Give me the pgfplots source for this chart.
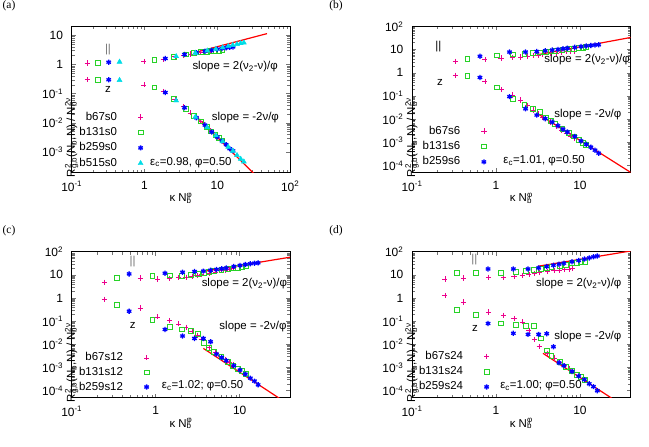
\documentclass[border=0pt]{standalone}
\usepackage{fontspec}
\setmainfont{Liberation Sans}
\newfontfamily\seriffont{Liberation Serif}
\usepackage{pgfplots}
\pgfplotsset{compat=1.18}

\definecolor{gpgreen}{RGB}{40,210,40}
\definecolor{gpcyan}{RGB}{0,220,230}
\newcommand\gpfont{\fontsize{11.5}{13}\selectfont}
\newcommand\tkfont{\fontsize{12}{14}\selectfont}
\newcommand\supsub[2]{\rlap{\textsuperscript{#1}}\textsubscript{#2}}
\newcommand\subsup[2]{\rlap{\textsubscript{#1}}\textsuperscript{#2}}
\newcommand\xlab{κ N\subsup{b}{φ}}
\newcommand\ylab{R\supsub{2}{g,b}(N\textsubscript{b},N) / N\subsup{b}{2ν}}

\pgfplotsset{
  pplus/.style={only marks, mark=+, mark size=2.6bp, color=magenta, line width=0.6bp},
  psq/.style={only marks, mark=square, mark size=2.4bp, color=gpgreen, line width=0.8bp},
  pstar/.style={only marks, mark=asterisk, mark size=2.6bp, color=blue, line width=1.3bp},
  ptri/.style={only marks, mark=triangle*, mark size=2.9bp, color=gpcyan},
  fitline/.style={red, line width=1.2bp, no marks, forget plot},
}

\begin{document}
\begin{tikzpicture}[font=\gpfont, every node/.append style={inner sep=0pt}]
\useasboundingbox (0,0) rectangle (649bp,447bp);

% ---------------- (a)
\begin{axis}[at={(71.7bp,274.5bp)}, anchor=south west,
  scale only axis, width=218.5bp, height=146bp,
  xmode=log, ymode=log,
  xmin=0.1, xmax=100, ymin=2e-4, ymax=20,
  xtick={0.1,1,10,100}, xticklabels={10\textsuperscript{-1},1,10,10\textsuperscript{2}},
  ytick={1e-3,1e-2,0.1,1,10}, yticklabels={10\textsuperscript{-3},10\textsuperscript{-2},10\textsuperscript{-1},1,10},
  minor tick num=0,
  tick align=inside, major tick length=4bp,
  tick style={black!55, line width=0.5bp},
  tick label style={font=\tkfont, inner sep=8.5bp},
  axis line style={line width=0.7bp},
  xlabel={\xlab}, ylabel={\ylab}, label style={font=\gpfont},
  xlabel style={at={(rel axis cs:0.5,0)}, anchor=center, yshift=-26bp},
  ylabel style={at={(rel axis cs:0,0.5)}, anchor=center, xshift=-38bp},
  legend cell align=right, legend plot pos=right,
  legend style={draw=none, fill=none, inner sep=0pt, outer sep=0pt, font=\gpfont,
    nodes={inner sep=0pt, text height=8.5bp, text depth=2.5bp},
    row sep=4.4bp, column sep=21bp, anchor=north east,
    at={(rel axis cs:0,1)}, xshift=71.5bp, yshift=-85.1bp}]
\addplot[pplus] coordinates {(0.164,1.13) (0.98,1.26) (1.80,1.52) (2.62,1.85) (3.44,2.1) (4.26,2.3) (5.08,2.45) (5.90,2.55) (6.72,2.62) (7.53,2.68) (8.35,2.72)};
\addlegendentry{b67s0}
\addplot[pplus, forget plot] coordinates {(0.164,0.30) (0.98,0.20) (1.80,0.12) (2.62,0.063) (3.44,0.036) (4.26,0.022) (5.08,0.0155) (5.90,0.0115) (6.72,0.0087) (7.53,0.0066) (8.35,0.0052)};
\addplot[psq] coordinates {(0.229,1.13) (1.37,1.40) (2.52,1.83) (3.66,2.2) (4.81,2.45) (5.95,2.65) (7.10,2.78) (8.24,2.88) (9.39,2.95) (10.5,3.0) (11.7,3.02)};
\addlegendentry{b131s0}
\addplot[psq, forget plot] coordinates {(0.229,0.30) (1.37,0.163) (2.52,0.068) (3.66,0.031) (4.81,0.017) (5.95,0.0113) (7.10,0.0074) (8.24,0.0051) (9.39,0.0038) (10.5,0.0030) (11.7,0.0025)};
\addplot[pstar] coordinates {(0.322,1.2) (1.93,1.6) (3.54,2.2) (5.15,2.55) (6.76,2.85) (8.37,3.1) (9.98,3.35) (11.6,3.55) (13.2,3.72) (14.8,3.88) (16.4,4.0)};
\addlegendentry{b259s0}
\addplot[pstar, forget plot] coordinates {(0.322,0.30) (1.93,0.11) (3.54,0.033) (5.15,0.015) (6.76,0.0084) (8.37,0.0049) (9.98,0.0033) (11.6,0.0024) (13.2,0.0018) (14.8,0.0013) (16.4,0.0011)};
\addplot[ptri] coordinates {(0.454,1.23) (2.72,1.9) (4.99,2.5) (7.26,2.95) (9.53,3.4) (11.8,3.8) (14.1,4.2) (16.3,4.6) (18.6,4.95) (20.9,5.3) (23.1,5.6)};
\addlegendentry{b515s0}
\addplot[ptri, forget plot] coordinates {(0.454,0.29) (2.72,0.058) (4.99,0.016) (7.26,0.0070) (9.53,0.0037) (11.8,0.0023) (14.1,0.0015) (16.3,0.0011) (18.6,0.00078) (20.9,0.00058) (23.1,0.00047)};
\addplot[fitline] coordinates {(5.2,2.66) (48,11.4)};
\addplot[fitline] coordinates {(5.5,0.014) (35,1.43e-4)};
\node[anchor=west] at (axis cs:1.19,4.47e-4) {ε\textsubscript{c}=0.98, φ=0.50};
\node[anchor=east] at (axis cs:68,0.84) {slope = 2(ν\textsubscript{2}-ν)/φ};
\node[anchor=east] at (axis cs:70.5,0.0155) {slope = -2ν/φ};
\node[text=black!55] at (axis cs:0.315,3.13) {\textbar\textbar};
\node at (axis cs:0.315,0.145) {z};
\end{axis}

% ---------------- (b)
\begin{axis}[at={(412bp,274.5bp)}, anchor=south west,
  scale only axis, width=218.5bp, height=146bp,
  xmode=log, ymode=log,
  xmin=0.1, xmax=40, ymin=5e-5, ymax=100,
  xtick={0.1,1,10}, xticklabels={10\textsuperscript{-1},1,10},
  ytick={1e-4,1e-3,1e-2,0.1,1,10,100},
  yticklabels={10\textsuperscript{-4},10\textsuperscript{-3},10\textsuperscript{-2},10\textsuperscript{-1},1,10,10\textsuperscript{2}},
  minor tick num=0,
  tick align=inside, major tick length=4bp,
  tick style={black!55, line width=0.5bp},
  tick label style={font=\tkfont, inner sep=8.5bp},
  axis line style={line width=0.7bp},
  xlabel={\xlab}, ylabel={\ylab}, label style={font=\gpfont},
  xlabel style={at={(rel axis cs:0.5,0)}, anchor=center, yshift=-26bp},
  ylabel style={at={(rel axis cs:0,0.5)}, anchor=center, xshift=-38bp},
  legend cell align=right, legend plot pos=right,
  legend style={draw=none, fill=none, inner sep=0pt, outer sep=0pt, font=\gpfont,
    nodes={inner sep=0pt, text height=8.5bp, text depth=2.5bp},
    row sep=4.4bp, column sep=21bp, anchor=north east,
    at={(rel axis cs:0,1)}, xshift=74.5bp, yshift=-99.1bp}]
\addplot[pplus] coordinates {(0.328,3.16) (0.737,3.7) (1.15,4.4) (1.56,4.6) (1.97,4.85) (2.38,5.2) (2.78,5.5) (3.19,5.8) (3.60,6.1) (4.42,6.7) (5.24,7.2) (6.06,7.7) (6.88,8.1) (7.70,8.5) (8.52,8.8)};
\addlegendentry{b67s6}
\addplot[pplus, forget plot] coordinates {(0.328,0.79) (0.737,0.44) (1.15,0.19) (1.56,0.11) (1.97,0.067) (2.38,0.04) (2.78,0.025) (3.19,0.017) (3.60,0.0125) (4.42,0.0075) (5.24,0.0048) (6.06,0.0034) (6.88,0.0025) (7.70,0.0019) (8.52,0.0015)};
\addplot[psq] coordinates {(0.458,4.1) (1.03,5.7) (1.60,6.3) (2.18,6.6) (2.75,7.2) (3.32,7.6) (3.89,8.0) (4.47,8.5) (5.04,8.9) (6.18,9.7) (7.33,10.4) (8.47,11.1) (9.62,11.8) (10.8,12.4) (11.9,13.0)};
\addlegendentry{b131s6}
\addplot[psq, forget plot] coordinates {(0.458,0.72) (1.03,0.235) (1.60,0.074) (2.18,0.04) (2.75,0.028) (3.32,0.02) (3.89,0.012) (4.47,0.0085) (5.04,0.0062) (6.18,0.0038) (7.33,0.0026) (8.47,0.0018) (9.62,0.0013) (10.8,0.00098) (11.9,0.00078)};
\addplot[pstar] coordinates {(0.644,5.2) (1.45,7.9) (2.25,7.9) (3.06,8.3) (3.86,8.9) (4.67,9.6) (5.47,10.3) (6.28,10.9) (7.08,11.5) (8.69,12.6) (10.3,13.6) (11.9,14.5) (13.5,15.2) (15.1,15.9) (16.7,16.4)};
\addlegendentry{b259s6}
\addplot[pstar, forget plot] coordinates {(0.644,0.63) (1.45,0.094) (2.25,0.028) (3.06,0.015) (3.86,0.0105) (4.67,0.0075) (5.47,0.0052) (6.28,0.0037) (7.08,0.0028) (8.69,0.0018) (10.3,0.00115) (11.9,0.00082) (13.5,0.00062) (15.1,0.00046) (16.7,0.00034)};
\addplot[fitline] coordinates {(3.16,6.1) (40,33.5)};
\addplot[fitline] coordinates {(3.16,0.017) (40,5.1e-5)};
\node[anchor=west] at (axis cs:1.22,1.61e-4) {ε\textsubscript{c}=1.01, φ=0.50};
\node[anchor=east] at (axis cs:39.4,3.58) {slope = 2(ν\textsubscript{2}-ν)/φ};
\node[anchor=east] at (axis cs:31.3,0.0151) {slope = -2ν/φ};
\node at (axis cs:0.206,13.4) {\textbar\textbar};
\node at (axis cs:0.215,0.375) {z};
\end{axis}

% ---------------- (c)
\begin{axis}[at={(71.7bp,49.3bp)}, anchor=south west,
  scale only axis, width=218.5bp, height=146bp,
  xmode=log, ymode=log,
  xmin=0.1, xmax=40, ymin=5e-5, ymax=100,
  xtick={0.1,1,10}, xticklabels={10\textsuperscript{-1},1,10},
  ytick={1e-4,1e-3,1e-2,0.1,1,10,100},
  yticklabels={10\textsuperscript{-4},10\textsuperscript{-3},10\textsuperscript{-2},10\textsuperscript{-1},1,10,10\textsuperscript{2}},
  minor tick num=0,
  tick align=inside, major tick length=4bp,
  tick style={black!55, line width=0.5bp},
  tick label style={font=\tkfont, inner sep=8.5bp},
  axis line style={line width=0.7bp},
  xlabel={\xlab}, ylabel={\ylab}, label style={font=\gpfont},
  xlabel style={at={(rel axis cs:0.5,0)}, anchor=center, yshift=-26bp},
  ylabel style={at={(rel axis cs:0,0.5)}, anchor=center, xshift=-38bp},
  legend cell align=right, legend plot pos=right,
  legend style={draw=none, fill=none, inner sep=0pt, outer sep=0pt, font=\gpfont,
    nodes={inner sep=0pt, text height=8.5bp, text depth=2.5bp},
    row sep=3.6bp, column sep=21bp, anchor=north east,
    at={(rel axis cs:0,1)}, xshift=77.5bp, yshift=-100.6bp}]
\addplot[pplus] coordinates {(0.246,4.85) (0.655,7.4) (1.06,6.7) (1.47,7.0) (1.88,7.5) (2.29,7.9) (2.70,8.6) (3.11,9.5) (3.52,10.5) (4.34,12.0) (5.16,13.5) (5.98,15) (6.80,16.3) (7.62,17.5) (8.44,18.5)};
\addlegendentry{b67s12}
\addplot[pplus, forget plot] coordinates {(0.246,0.88) (0.655,0.37) (1.06,0.154) (1.47,0.107) (1.88,0.077) (2.29,0.055) (2.70,0.035) (3.11,0.025) (3.52,0.016) (4.34,0.0075) (5.16,0.0045) (5.98,0.003) (6.80,0.0022) (7.62,0.0017) (8.44,0.0013)};
\addplot[psq] coordinates {(0.344,7.4) (0.916,8.8) (1.49,9.4) (2.06,9.0) (2.63,10.3) (3.21,11.2) (3.78,12.3) (4.35,13.3) (4.92,14.3) (6.07,16) (7.21,17.6) (8.36,19.2) (9.50,20.5) (10.6,21.8) (11.8,23)};
\addlegendentry{b131s12}
\addplot[psq, forget plot] coordinates {(0.344,0.52) (0.916,0.118) (1.49,0.057) (2.06,0.044) (2.63,0.037) (3.21,0.028) (3.78,0.012) (4.35,0.0072) (4.92,0.0048) (6.07,0.0029) (7.21,0.0018) (8.36,0.0012) (9.50,0.0009) (10.6,0.0007) (11.8,0.00052)};
\addplot[pstar] coordinates {(0.483,11) (1.29,11.8) (2.09,13) (2.90,13.9) (3.70,14.5) (4.51,15.8) (5.31,17.2) (6.11,18.5) (6.92,19.7) (8.53,23) (10.1,25.5) (11.7,28) (13.4,30) (15.0,32) (16.6,33)};
\addlegendentry{b259s12}
\addplot[pstar, forget plot] coordinates {(0.483,0.27) (1.29,0.044) (2.09,0.023) (2.90,0.018) (3.70,0.018) (4.51,0.013) (5.31,0.0038) (6.11,0.0027) (6.92,0.002) (8.53,0.0012) (10.1,0.00078) (11.7,0.00052) (13.4,0.00035) (15.0,0.00026) (16.6,0.00018)};
\addplot[fitline] coordinates {(3.63,13.9) (40,58)};
\addplot[fitline] coordinates {(3.7,6.7e-3) (30,4.6e-5)};
\node[anchor=west] at (axis cs:1.18,1.65e-4) {ε\textsubscript{c}=1.02; φ=0.50};
\node[anchor=east] at (axis cs:36.9,4.33) {slope = 2(ν\textsubscript{2}-ν)/φ};
\node[anchor=east] at (axis cs:36.3,0.058) {slope = -2ν/φ};
\node[text=black!55] at (axis cs:0.532,37) {\textbar\textbar};
\node at (axis cs:0.532,0.0686) {z};
\end{axis}

% ---------------- (d)
\begin{axis}[at={(412bp,49.3bp)}, anchor=south west,
  scale only axis, width=218.5bp, height=146bp,
  xmode=log, ymode=log,
  xmin=0.1, xmax=40, ymin=5e-5, ymax=100,
  xtick={0.1,1,10}, xticklabels={10\textsuperscript{-1},1,10},
  ytick={1e-4,1e-3,1e-2,0.1,1,10,100},
  yticklabels={10\textsuperscript{-4},10\textsuperscript{-3},10\textsuperscript{-2},10\textsuperscript{-1},1,10,10\textsuperscript{2}},
  minor tick num=0,
  tick align=inside, major tick length=4bp,
  tick style={black!55, line width=0.5bp},
  tick label style={font=\tkfont, inner sep=8.5bp},
  axis line style={line width=0.7bp},
  xlabel={\xlab}, ylabel={\ylab}, label style={font=\gpfont},
  xlabel style={at={(rel axis cs:0.5,0)}, anchor=center, yshift=-26bp},
  ylabel style={at={(rel axis cs:0,0.5)}, anchor=center, xshift=-38bp},
  legend cell align=right, legend plot pos=right,
  legend style={draw=none, fill=none, inner sep=0pt, outer sep=0pt, font=\gpfont,
    nodes={inner sep=0pt, text height=8.5bp, text depth=2.5bp},
    row sep=4.4bp, column sep=21bp, anchor=north east,
    at={(rel axis cs:0,1)}, xshift=77.2bp, yshift=-98.9bp}]
\addplot[pplus] coordinates {(0.246,6.7) (0.41,7.4) (0.82,7.9) (1.23,7.9) (1.64,8.5) (2.05,9.4) (2.46,10.5) (2.87,11.5) (3.28,12.5) (4.10,14) (4.92,15.3) (5.73,16.3) (6.55,17.2) (7.37,18) (8.19,18.6)};
\addlegendentry{b67s24}
\addplot[pplus, forget plot] coordinates {(0.246,1.3) (0.41,0.68) (0.82,0.25) (1.23,0.18) (1.64,0.13) (2.05,0.094) (2.46,0.04) (2.87,0.016) (3.28,0.0079) (4.10,0.0042) (4.92,0.0026) (5.73,0.0017) (6.55,0.0012) (7.37,0.00088) (8.19,0.0007)};
\addplot[psq] coordinates {(0.344,11.8) (0.572,11.8) (1.14,12.2) (1.72,13) (2.29,14.5) (2.86,16.4) (3.43,18.5) (4.01,20.5) (4.58,22) (5.72,25) (6.87,28) (8.01,31) (9.16,33) (10.3,35) (11.45,37)};
\addlegendentry{b131s24}
\addplot[psq, forget plot] coordinates {(0.344,0.3) (0.572,0.18) (1.14,0.08) (1.72,0.067) (2.29,0.061) (2.86,0.061) (3.43,0.018) (4.01,0.0055) (4.58,0.0033) (5.72,0.0017) (6.87,0.0011) (8.01,0.00072) (9.16,0.0005) (10.3,0.00038) (11.45,0.0003)};
\addplot[pstar] coordinates {(0.805,18) (1.61,18) (2.41,18) (3.22,20) (4.02,23) (4.83,26) (5.63,29) (6.44,32) (8.05,37) (9.65,42) (11.3,48) (12.9,54) (14.5,60) (16.1,65)};
\addlegendentry{b259s24}
\addplot[pstar, forget plot] coordinates {(0.805,0.08) (1.61,0.03) (2.41,0.027) (3.22,0.027) (4.02,0.029) (4.83,0.0079) (5.63,0.0016) (6.44,0.0012) (8.05,0.00068) (9.65,0.00043) (11.3,0.0003) (12.9,0.0002) (14.5,0.00015) (16.1,0.0001)};
\addplot[fitline] coordinates {(3.16,23.5) (40,107)};
\addplot[fitline] coordinates {(3.63,4.1e-3) (24,4.7e-5)};
\node[anchor=west] at (axis cs:1.12,1.65e-4) {ε\textsubscript{c}=1.00; φ=0.50};
\node[anchor=east] at (axis cs:31.3,4.33) {slope = 2(ν\textsubscript{2}-ν)/φ};
\node[anchor=east] at (axis cs:31.3,0.0215) {slope = -2ν/φ};
\node[text=black!55] at (axis cs:0.552,43.9) {\textbar\textbar};
\node at (axis cs:0.562,0.0494) {z};
\end{axis}

\node[font=\seriffont\fontsize{11.5}{13}\selectfont] at (9bp,441bp) {(a)};
\node[font=\seriffont\fontsize{11.5}{13}\selectfont] at (336bp,441bp) {(b)};
\node[font=\seriffont\fontsize{11.5}{13}\selectfont] at (9bp,216bp) {(c)};
\node[font=\seriffont\fontsize{11.5}{13}\selectfont] at (336bp,216bp) {(d)};
\end{tikzpicture}
\end{document}
